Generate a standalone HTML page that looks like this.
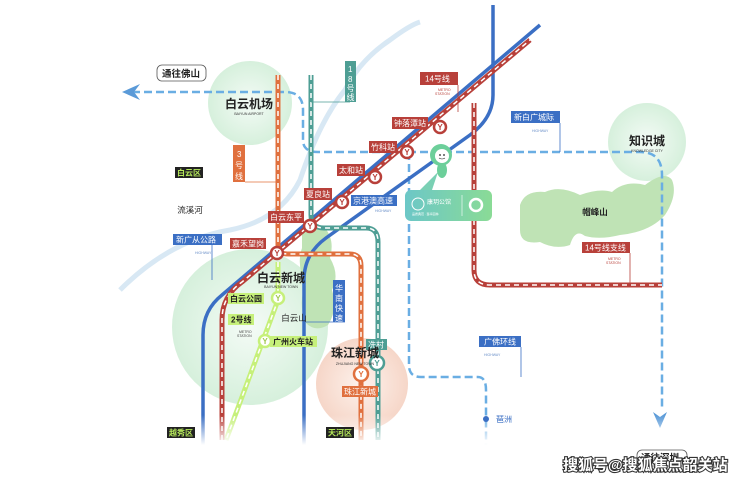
<!DOCTYPE html>
<html><head><meta charset="utf-8"><style>
html,body{margin:0;padding:0;background:#fff;}
svg{display:block;font-family:"Liberation Sans","Noto Sans CJK SC",sans-serif;}
</style></head><body>
<svg width="740" height="481" viewBox="0 0 740 481" xmlns="http://www.w3.org/2000/svg">
<defs>
<radialGradient id="gc" cx="50%" cy="50%" r="50%"><stop offset="0" stop-color="#f4fbf6"/><stop offset="1" stop-color="#d6f0dc"/></radialGradient>
<radialGradient id="pc" cx="50%" cy="50%" r="50%"><stop offset="0" stop-color="#fdf2ec"/><stop offset="1" stop-color="#f6d6c8"/></radialGradient>
<linearGradient id="card" x1="0" x2="1"><stop offset="0" stop-color="#6cc7c7"/><stop offset="1" stop-color="#8adb96"/></linearGradient>
<linearGradient id="fade" x1="0" y1="0" x2="0" y2="1"><stop offset="0" stop-color="#fff" stop-opacity="0"/><stop offset="1" stop-color="#fff" stop-opacity="1"/></linearGradient>
</defs>
<rect width="740" height="481" fill="#fff"/>
<path d="M120,290 Q170,240 230,230 Q280,220 300,180 Q320,120 345,90 Q360,60 390,40 Q410,25 420,22" fill="none" stroke="#d8e8f4" stroke-width="5"/>
<circle cx="250" cy="103" r="42" fill="url(#gc)"/>
<circle cx="250" cy="327" r="78" fill="url(#gc)"/>
<circle cx="362" cy="384" r="46" fill="url(#pc)"/>
<circle cx="647" cy="142" r="39" fill="url(#gc)"/>
<path d="M520,205 Q525,190 545,192 Q560,185 580,195 Q600,188 612,192 Q625,180 645,185 Q665,170 672,180 Q678,195 665,215 Q650,232 620,235 Q600,240 585,236 Q575,228 570,245 Q555,250 540,242 Q520,245 520,230 Z" fill="#bfe3b5"/>
<path d="M302,235 Q312,222 325,228 Q335,240 330,258 Q340,275 332,290 Q338,310 328,325 Q315,333 305,322 Q298,300 306,285 Q296,265 302,248 Z" fill="#bfe3b5"/>
<g fill="none" stroke="#6aaee3" stroke-width="2.5" stroke-dasharray="8,4">
<path d="M132,92 H285 Q303,92 303,110 V140 Q303,152 318,152 H640 Q662,152 662,175 V410"/>
<path d="M409,152 V365 Q409,377 421,377 H478 Q486,377 486,390 V445"/>
</g>
<path d="M122,92 L140,84 L134,92 L140,100 Z" fill="#5a9ad8"/>
<path d="M660,428 L653,412 L660,417 L667,412 Z" fill="#5a9ad8"/>
<g fill="none" stroke="#3b6fc4" stroke-width="3.5">
<path d="M203,445 V335 Q203,310 222,295 L540,25"/>
<path d="M304,445 V280 Q304,254 326,238 L470,135 Q493,118 493,95 V5"/>
</g>
<path d="M311,75 V215 Q311,228 324,228 H366 Q378,228 378,242 V440" fill="none" stroke="#4e9e94" stroke-width="5"/>
<path d="M311,75 V215 Q311,228 324,228 H366 Q378,228 378,242 V440" fill="none" stroke="#fff" stroke-width="1.5" stroke-dasharray="5,4"/>
<path d="M278,75 V250 Q278,254 290,254 H350 Q361,254 361,266 V440" fill="none" stroke="#e0703e" stroke-width="5"/>
<path d="M278,75 V250 Q278,254 290,254 H350 Q361,254 361,266 V440" fill="none" stroke="#fff" stroke-width="1.5" stroke-dasharray="5,4"/>
<path d="M278,262 V300 L226,440" fill="none" stroke="#c6f07a" stroke-width="5"/>
<path d="M278,262 V300 L226,440" fill="none" stroke="#fff" stroke-width="1.5" stroke-dasharray="5,4"/>
<g fill="none" stroke="#b8403a" stroke-width="5">
<path d="M222,440 V320 Q222,296 242,282 L530,40"/>
<path d="M474,103 V270 Q474,285 490,285 H662"/>
</g>
<g fill="none" stroke="#fff" stroke-width="1.5" stroke-dasharray="5,4">
<path d="M222,440 V320 Q222,296 242,282 L530,40"/>
<path d="M474,103 V270 Q474,285 490,285 H662"/>
</g>
<rect x="150" y="415" width="560" height="30" fill="url(#fade)"/>
<g stroke-width="2.5" fill="#fff">
<circle cx="277" cy="253" r="6" stroke="#b8403a"/>
<circle cx="310" cy="226" r="6" stroke="#b8403a"/>
<circle cx="342" cy="202" r="6" stroke="#b8403a"/>
<circle cx="375" cy="177" r="6" stroke="#b8403a"/>
<circle cx="407" cy="152" r="6" stroke="#b8403a"/>
<circle cx="440" cy="127" r="6" stroke="#b8403a"/>
<circle cx="278" cy="298" r="6" stroke="#c6f07a"/>
<circle cx="265" cy="341" r="6" stroke="#c6f07a"/>
<circle cx="361" cy="374" r="7" stroke="#e0703e"/>
<circle cx="377" cy="363" r="7" stroke="#4e9e94"/>
</g>
<g font-size="8" font-weight="bold" text-anchor="middle">
<text x="277" y="256" fill="#b8403a">Y</text><text x="310" y="229" fill="#b8403a">Y</text><text x="342" y="205" fill="#b8403a">Y</text><text x="375" y="180" fill="#b8403a">Y</text><text x="407" y="155" fill="#b8403a">Y</text><text x="440" y="130" fill="#b8403a">Y</text>
<text x="278" y="301" fill="#a0c850">Y</text><text x="265" y="344" fill="#a0c850">Y</text><text x="361" y="377" fill="#e0703e">Y</text><text x="377" y="366" fill="#4e9e94">Y</text>
</g>
<circle cx="486" cy="419" r="3" fill="#3b6fc4"/>
<g stroke-width="0.8" fill="none">
<path d="M458,85 V112" stroke="#b8403a"/>
<path d="M350,102 H311" stroke="#4e9e94"/>
<path d="M245,182 H278" stroke="#e0703e"/>
<path d="M212,245 V280" stroke="#3b6fc4"/>
<path d="M560,123 V152" stroke="#3b6fc4"/>
<path d="M630,253 V285" stroke="#b8403a"/>
<path d="M345,322 H306" stroke="#3b6fc4"/>
<path d="M521,347 V377" stroke="#3b6fc4"/>
</g>
<g font-size="8" fill="#fff">
<rect x="420" y="72" width="38" height="13" fill="#b8403a"/><text x="425" y="81.5">14号线</text>
<rect x="392" y="117" width="36" height="12" fill="#b8403a"/><text x="394" y="126">钟落潭站</text>
<rect x="369" y="141" width="28" height="12" fill="#b8403a"/><text x="371" y="150">竹科站</text>
<rect x="337" y="164" width="28" height="12" fill="#b8403a"/><text x="339" y="173">太和站</text>
<rect x="304" y="188" width="28" height="12" fill="#b8403a"/><text x="306" y="197">夏良站</text>
<rect x="268" y="211" width="36" height="12" fill="#b8403a"/><text x="270" y="220">白云东平</text>
<rect x="230" y="238" width="36" height="11" fill="#b8403a"/><text x="232" y="246.5">嘉禾望岗</text>
<rect x="351" y="195" width="46" height="11" fill="#3b6fc4"/><text x="353" y="203.5">京港澳高速</text>
<rect x="173" y="234" width="49" height="11" fill="#3b6fc4"/><text x="176" y="242.5">新广从公路</text>
<rect x="511" y="111" width="49" height="12" fill="#3b6fc4"/><text x="514" y="120">新白广城际</text>
<rect x="582" y="242" width="48" height="11" fill="#b8403a"/><text x="585" y="250.5">14号线支线</text>
<rect x="479" y="336" width="42" height="11" fill="#3b6fc4"/><text x="484" y="344.5">广佛环线</text>
<rect x="366" y="339" width="21" height="11" fill="#4e9e94"/><text x="368" y="347.5">冼村</text>
<rect x="342" y="386" width="36" height="11" fill="#e0703e"/><text x="344" y="394.5">珠江新城</text>
<rect x="345" y="61" width="11" height="41" fill="#4e9e94"/>
<text x="348" y="72">1</text><text x="348" y="82">8</text><text x="346.5" y="91">号</text><text x="346.5" y="100">线</text>
<rect x="233" y="145" width="12" height="37" fill="#e0703e"/>
<text x="237" y="157">3</text><text x="235" y="168">号</text><text x="235" y="179">线</text>
<rect x="333" y="280" width="12" height="42" fill="#3b6fc4"/>
<text x="335" y="291">华</text><text x="335" y="301">南</text><text x="335" y="311">快</text><text x="335" y="321">速</text>
</g>
<g font-size="8" fill="#222" font-weight="bold">
<rect x="228" y="293" width="36" height="11" fill="#c6f07a"/><text x="230" y="301.5">白云公园</text>
<rect x="228" y="314" width="26" height="11" fill="#c6f07a"/><text x="231" y="322.5">2号线</text>
<rect x="270" y="336" width="47" height="11" fill="#c6f07a"/><text x="273" y="344.5">广州火车站</text>
</g>
<g font-size="8" fill="#b5e85a" font-weight="bold">
<rect x="175" y="167" width="28" height="11" fill="#222"/><text x="177" y="175.5">白云区</text>
<rect x="167" y="427" width="28" height="11" fill="#222"/><text x="169" y="435.5">越秀区</text>
<rect x="326" y="427" width="28" height="11" fill="#222"/><text x="328" y="435.5">天河区</text>
</g>
<g font-size="3.5" fill="#6a8fc8">
<text x="375" y="212">HIGHWAY</text><text x="195" y="254">HIGHWAY</text><text x="532" y="132">HIGHWAY</text><text x="484" y="356">HIGHWAY</text>
</g>
<g font-size="3.5" fill="#b8403a"><text x="438" y="91">METRO</text><text x="435" y="95">STATION</text><text x="608" y="260">METRO</text><text x="606" y="264">STATION</text></g>
<g font-size="3.5" fill="#444"><text x="239" y="333">METRO</text><text x="237" y="337">STATION</text></g>
<g fill="#222" font-weight="bold" text-anchor="middle">
<text x="249" y="108" font-size="12">白云机场</text>
<text x="281" y="282" font-size="12">白云新城</text>
<text x="355" y="357" font-size="12">珠江新城</text>
<text x="647" y="145" font-size="12">知识城</text>
<text x="595" y="215" font-size="8.5">帽峰山</text>
<text x="294" y="321" font-size="8.5" font-weight="normal">白云山</text>
<text x="190" y="213" font-size="8.5" font-weight="normal">流溪河</text>
</g>
<g fill="#333" font-size="3.5" text-anchor="middle">
<text x="249" y="115">BAIYUN AIRPORT</text><text x="281" y="288">BAIYUN NEW TOWN</text><text x="355" y="365">ZHUJIANG NEW TOWN</text><text x="647" y="152">KNOWLEDGE CITY</text>
</g>
<text x="496" y="422" font-size="8" fill="#3b6fc4">琶洲</text>
<rect x="157" y="65" width="49" height="16" rx="5" fill="#fff" stroke="#555" stroke-width="0.8"/>
<text x="162" y="77" font-size="9.5" font-weight="bold" fill="#222">通往佛山</text>
<rect x="637" y="450" width="50" height="16" rx="5" fill="#fff" stroke="#555" stroke-width="0.8"/>
<text x="641" y="461" font-size="9.5" font-weight="bold" fill="#222">通往深圳</text>
<rect x="405" y="190" width="87" height="31" rx="6" fill="url(#card)"/>
<path d="M420,190 L438,172 L432,190 Z" fill="#7ad0b4"/>
<circle cx="418" cy="204" r="6" fill="none" stroke="#fff" stroke-width="1"/>
<text x="427" y="204" font-size="6" fill="#fff">康玥公馆</text>
<text x="412" y="215" font-size="3" fill="#fff">品质典范 · 臻享园林</text>
<line x1="462" y1="195" x2="462" y2="216" stroke="#fff" stroke-width="0.6"/>
<circle cx="476" cy="205" r="6" fill="none" stroke="#fff" stroke-width="2.5"/>
<ellipse cx="442" cy="170" rx="5" ry="8" fill="#6ccf9a"/>
<circle cx="441" cy="155" r="11" fill="#6ccf9a"/>
<circle cx="442" cy="156" r="7" fill="#fff"/>
<circle cx="440" cy="155" r="0.9" fill="#222"/><circle cx="444" cy="155" r="0.9" fill="#222"/>
<path d="M439,158 Q442,160 445,158" stroke="#222" stroke-width="0.6" fill="none"/>
<text x="563" y="470" font-size="15" font-weight="bold" fill="#fff" stroke="#333" stroke-width="2.2" paint-order="stroke">搜狐号@搜狐焦点韶关站</text>
</svg>
</body></html>
